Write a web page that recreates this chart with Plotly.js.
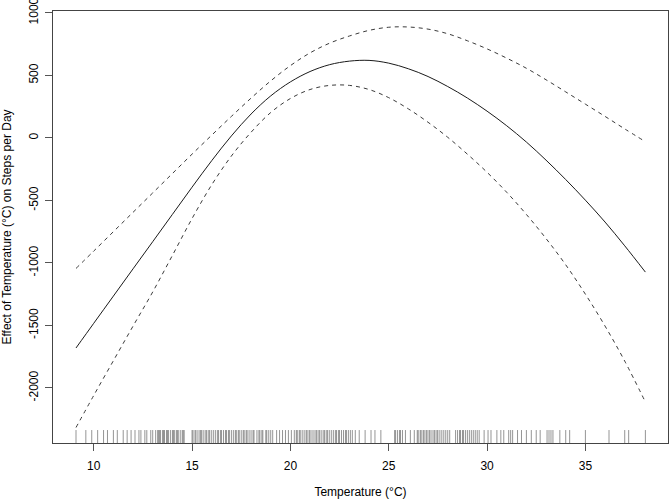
<!DOCTYPE html>
<html>
<head>
<meta charset="utf-8">
<script src="https://cdn.plot.ly/plotly-3.0.1.min.js"></script>
<style>
  html, body { margin: 0; padding: 0; background: #fff; }
  #plot { width: 669px; height: 499px; }
</style>
</head>
<body>
<div id="plot"></div>
<script>
// Smooth term s(Temperature) with +/- 2 SE bands
const temp = [9.1, 10, 11, 12, 13, 14, 15, 16, 17, 18, 19, 20, 21, 22, 23,
              24, 25, 26, 27, 28, 29, 30, 31, 32, 33, 34, 35, 36, 37, 38.05];
const fit = [-1680, -1483, -1265, -1047, -830, -612, -394, -182, 16, 191, 336, 448, 531, 586, 614,
             620, 598, 553, 491, 411, 319, 214, 97, -33, -178, -333, -498, -673, -863, -1073];
const upper = [-1044, -905, -750, -595, -440, -285, -130, 22, 172, 318, 456, 578, 680, 758, 815,
               860, 885, 887, 870, 833, 777, 712, 638, 557, 465, 368, 270, 172, 72, -30];
const lower = [-2316, -2060, -1782, -1505, -1232, -940, -645, -375, -145, 45, 203, 315, 387, 420, 420,
               387, 322, 232, 125, 5, -130, -275, -435, -612, -805, -1015, -1250, -1505, -1785, -2112];

// observed temperatures (rug)
const rugTemps = [
  9.1, 9.6, 9.9, 10.2, 10.5, 10.7, 11.0, 11.2, 11.5, 11.7, 11.9, 12.1, 12.3, 12.4, 12.6, 12.7, 12.9, 13.0, 13.15,
  13.25, 13.3, 13.35, 13.4, 13.5, 13.55, 13.6, 13.7, 13.75, 13.8, 13.9, 14.0, 14.05, 14.1, 14.2, 14.25, 14.3,
  14.4, 14.5, 14.55, 14.6,
  15.0, 15.05, 15.15, 15.2, 15.3, 15.4, 15.45, 15.5, 15.6, 15.7, 15.75, 15.85, 15.9, 16.0, 16.1, 16.2, 16.3,
  16.35, 16.45, 16.5, 16.6, 16.7, 16.75, 16.85, 16.9, 17.0, 17.1, 17.2, 17.25, 17.35, 17.4, 17.5, 17.6, 17.65,
  17.75, 17.8, 17.9, 18.0, 18.1, 18.15, 18.3, 18.4, 18.45, 18.55, 18.6, 18.75, 18.8, 18.9, 19.0, 19.1,
  19.3, 19.45, 19.6, 19.75, 19.9, 20.05,
  20.2, 20.3, 20.35, 20.45, 20.5, 20.6, 20.7, 20.8, 20.85, 20.95, 21.0, 21.1, 21.2, 21.3, 21.35, 21.45, 21.5,
  21.6, 21.7, 21.75, 21.85, 21.9, 22.0, 22.1, 22.2, 22.3, 22.35, 22.45, 22.5, 22.6, 22.7, 22.8, 22.85, 22.95,
  23.05, 23.15,
  23.3, 23.5, 23.8, 24.1, 24.3, 24.6,
  25.3, 25.35, 25.45, 25.55, 25.6, 25.7, 25.85,
  26.1, 26.3, 26.45, 26.5, 26.6, 26.65, 26.75, 26.8, 26.9, 26.95, 27.05, 27.1, 27.2, 27.3, 27.35, 27.45, 27.5,
  27.6, 27.7, 27.8, 27.9, 28.0, 28.1,
  28.4, 28.5, 28.6, 28.65, 28.75, 28.8, 28.9, 29.0, 29.1, 29.2, 29.3, 29.4, 29.5, 29.6,
  29.85, 30.05, 30.2, 30.5, 30.7, 30.85, 31.1, 31.2, 31.3, 31.55, 31.75, 32.0, 32.25, 32.5, 32.7, 33.05, 33.15,
  33.25, 33.35, 33.7, 34.0, 34.2, 35.0, 36.2, 37.0, 37.2, 38.05
];

const xTicks = [10, 15, 20, 25, 30, 35];
const yTicks = [-2000, -1500, -1000, -500, 0, 500, 1000];
const yTickText = ['-2000', '-1500', '-1000', '-500', '0', '500', '1000'];

const xRange = [7.93, 39.2];
const yRange = [-2440, 1015];
const rugTop = yRange[0] + 0.03 * (yRange[1] - yRange[0]);

const traces = [
  {
    x: rugTemps.flatMap(t => [t, t, null]),
    y: rugTemps.flatMap(() => [yRange[0], rugTop, null]),
    mode: 'lines',
    line: { color: 'rgba(0,0,0,0.42)', width: 1 },
    hoverinfo: 'skip'
  },
  {
    x: temp, y: upper, mode: 'lines',
    line: { color: '#3a3a3a', width: 1, dash: '4px,4px', shape: 'spline', smoothing: 1 }
  },
  {
    x: temp, y: lower, mode: 'lines',
    line: { color: '#3a3a3a', width: 1, dash: '4px,4px', shape: 'spline', smoothing: 1 }
  },
  {
    x: temp, y: fit, mode: 'lines',
    line: { color: '#1a1a1a', width: 1, shape: 'spline', smoothing: 1 }
  }
];

const axisFont = { family: 'Liberation Sans, Arial, sans-serif', size: 12, color: '#000' };

const layout = {
  width: 669,
  height: 499,
  showlegend: false,
  paper_bgcolor: '#fff',
  plot_bgcolor: '#fff',
  margin: { l: 53, r: 1, t: 11, b: 56 },
  font: axisFont,
  xaxis: {
    range: xRange,
    tickvals: xTicks,
    ticks: 'outside',
    ticklen: 7,
    tickcolor: '#555',
    ticklabelstandoff: 5,
    showgrid: false,
    zeroline: false,
    showline: true,
    mirror: true,
    linecolor: '#444',
    linewidth: 1,
    tickfont: axisFont,
    title: { text: 'Temperature (°C)', font: axisFont, standoff: 16 }
  },
  yaxis: {
    range: yRange,
    tickvals: yTicks,
    ticktext: yTickText,
    tickangle: -90,
    ticks: 'outside',
    ticklen: 7,
    tickcolor: '#555',
    ticklabelstandoff: 2,
    ticklabeloverflow: 'allow',
    showgrid: false,
    zeroline: false,
    showline: true,
    mirror: true,
    linecolor: '#444',
    linewidth: 1,
    tickfont: axisFont,
    title: { text: 'Effect of Temperature (°C) on Steps per Day', font: axisFont, standoff: 15 }
  }
};

Plotly.newPlot('plot', traces, layout, { displayModeBar: false, staticPlot: true });
</script>
</body>
</html>
